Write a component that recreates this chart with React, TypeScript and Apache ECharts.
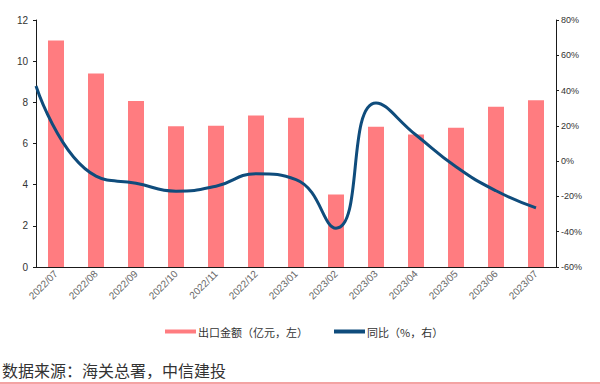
import React, { useEffect, useRef } from "react";
import * as echarts from "echarts";

const categories = [
  "2022/07", "2022/08", "2022/09", "2022/10", "2022/11", "2022/12",
  "2023/01", "2023/02", "2023/03", "2023/04", "2023/05", "2023/06", "2023/07",
];
const exportValues = [11.0, 9.4, 8.07, 6.84, 6.86, 7.36, 7.25, 3.52, 6.81, 6.44, 6.76, 7.78, 8.1];
const yoyValues = [42.6, -8.5, -12.5, -17, -14.2, -7.2, -10.5, -38, 33, 14.8, -3.2, -16.8, -26.5];
const leftTicks = { min: 0, max: 12, interval: 2 };
const rightTicks = { min: -60, max: 80, interval: 20 };
const barName = "出口金额（亿元，左）";
const lineName = "同比（%，右）";
const sourceText = "数据来源：海关总署，中信建投";

const BAR_COLOR = "#FF7C80";
const LINE_COLOR = "#0F4C7C";
const AXIS_COLOR = "#1a1a1a";
const NUM_FONT = "'Liberation Sans', Arial, sans-serif";
const CJK_FONT = "'Noto Sans CJK SC', sans-serif";

export default function App() {
  const ref = useRef<HTMLDivElement>(null);
  useEffect(() => {
    if (!ref.current) return;
    const chart = echarts.init(ref.current, undefined, { renderer: "svg" });
    // line points: first point sits on the left axis edge, the rest on category centres
    const linePoints = yoyValues.map((v, i) => [i === 0 ? 0 : i + 0.5, v]);
    chart.setOption({
      animation: false,
      backgroundColor: "#ffffff",
      grid: { left: 36, right: 44, top: 20, bottom: 117, containLabel: false },
      legend: {
        left: 160,
        top: 321,
        itemWidth: 31,
        itemHeight: 4,
        itemGap: 26,
        icon: "rect",
        textStyle: { fontFamily: CJK_FONT, fontSize: 11, color: "#333", padding: [0, 0, 0, -3] },
        data: [
          { name: barName, itemStyle: { color: BAR_COLOR } },
          { name: lineName, itemStyle: { color: LINE_COLOR } },
        ],
      },
      xAxis: [
        {
          type: "category",
          data: categories,
          boundaryGap: true,
          axisLine: { lineStyle: { color: AXIS_COLOR, width: 1 } },
          axisTick: { inside: true, length: 3, alignWithLabel: false, lineStyle: { color: AXIS_COLOR } },
          axisLabel: {
            rotate: 45,
            fontSize: 10,
            color: "#666",
            fontFamily: NUM_FONT,
            margin: 5,
            interval: 0,
          },
          splitLine: { show: false },
        },
        {
          type: "value",
          min: 0,
          max: categories.length,
          show: false,
        },
      ],
      yAxis: [
        {
          type: "value",
          min: leftTicks.min,
          max: leftTicks.max,
          interval: leftTicks.interval,
          axisLine: { show: true, lineStyle: { color: AXIS_COLOR } },
          axisTick: { show: true, length: 3, lineStyle: { color: AXIS_COLOR } },
          axisLabel: { fontSize: 10, color: "#333", fontFamily: NUM_FONT, margin: 8 },
          splitLine: { show: false },
        },
        {
          type: "value",
          min: rightTicks.min,
          max: rightTicks.max,
          interval: rightTicks.interval,
          position: "right",
          axisLine: { show: true, lineStyle: { color: AXIS_COLOR } },
          axisTick: { show: true, length: 3, lineStyle: { color: AXIS_COLOR } },
          axisLabel: { fontSize: 9, color: "#333", fontFamily: NUM_FONT, margin: 5, formatter: "{value}%" },
          splitLine: { show: false },
        },
      ],
      series: [
        {
          name: barName,
          type: "bar",
          data: exportValues,
          barWidth: "40%",
          itemStyle: { color: BAR_COLOR },
          xAxisIndex: 0,
          yAxisIndex: 0,
        },
        {
          name: lineName,
          type: "line",
          data: linePoints,
          xAxisIndex: 1,
          yAxisIndex: 1,
          smooth: 0.5,
          showSymbol: false,
          symbol: "none",
          lineStyle: { color: LINE_COLOR, width: 3 },
          itemStyle: { color: LINE_COLOR },
        },
      ],
      graphic: [
        {
          type: "text",
          left: 2,
          top: 362,
          style: { text: sourceText, font: `16px ${CJK_FONT}`, fill: "#333" },
        },
        {
          type: "rect",
          shape: { x: 0, y: 382, width: 600, height: 2 },
          style: { fill: "#F4A3A3" },
        },
      ],
    });
    return () => chart.dispose();
  }, []);
  return (
    <div
      ref={ref}
      style={{ position: "fixed", left: 0, top: 0, width: 600, height: 384, background: "#fff" }}
    />
  );
}
